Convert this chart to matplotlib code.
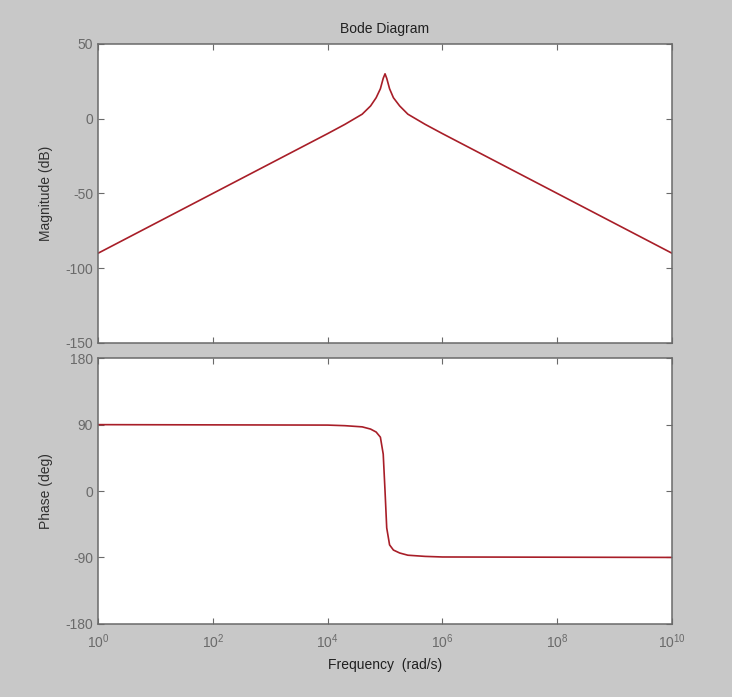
import matplotlib.pyplot as plt
from matplotlib.ticker import NullLocator

# frequency samples (rad/s) and the response read at them
freq = [1, 1e1, 1e2, 1e3, 1e4, 2e4, 4e4, 5.6e4, 7e4, 8.3e4, 9.3e4, 1e5,
        1.07e5, 1.2e5, 1.4e5, 1.8e5, 2.5e5, 5e5, 1e6, 1e7, 1e8, 1e9, 1e10]
mag_db = [-90, -70, -50, -30, -10, -3.8, 3.0, 8.5, 14, 20, 27, 30,
          27, 20, 14, 8.5, 3.0, -3.8, -10, -30, -50, -70, -90]

phase_freq = [1, 1e4, 2e4, 4e4, 5.6e4, 7e4, 8.3e4, 9.3e4, 1e5, 1.07e5,
              1.2e5, 1.4e5, 1.8e5, 2.5e5, 5e5, 1e6, 1e10]
phase_deg = [90, 89.4, 88.6, 87, 84, 80, 73, 50, 0, -50,
             -73, -80, -84, -87, -88.6, -89.4, -90]

freq_ticks = [1, 1e2, 1e4, 1e6, 1e8, 1e10]
mag_ticks = [-150, -100, -50, 0, 50]
phase_ticks = [-180, -90, 0, 90, 180]

plt.rcParams['font.family'] = ['Liberation Sans', 'DejaVu Sans']
plt.rcParams['mathtext.fontset'] = 'custom'
plt.rcParams['mathtext.rm'] = 'Liberation Sans'
plt.rcParams['axes.unicode_minus'] = False

bg = '#c8c8c8'
edge = '#6a6a6a'
tick_col = '#6a6a6a'
line_col = '#a81e28'

fig = plt.figure(figsize=(7.32, 6.97), dpi=100, facecolor=bg)
ax1 = fig.add_axes([0.134, 0.508, 0.784, 0.429])
ax2 = fig.add_axes([0.134, 0.105, 0.784, 0.381])

for ax in (ax1, ax2):
    ax.set_xscale('log')
    ax.set_xticks(freq_ticks)
    ax.xaxis.set_minor_locator(NullLocator())
    ax.set_xlim(1, 1e10)
    ax.tick_params(direction='in', length=4, width=0.8, colors=edge,
                   labelcolor=tick_col, labelsize=10,
                   top=True, right=True)
    for s in ax.spines.values():
        s.set_color(edge)
        s.set_linewidth(1.1)

ax1.plot(freq, mag_db, color=line_col, lw=1.2)
ax1.set_ylim(-150, 50)
ax1.set_yticks(mag_ticks)
ax1.tick_params(labelbottom=False)
ax1.set_ylabel('Magnitude (dB)', fontsize=10, color='#303030')
ax1.set_title('Bode Diagram', fontsize=10, color='#202020', pad=8)

ax2.plot(phase_freq, phase_deg, color=line_col, lw=1.2)
ax2.set_ylim(-180, 180)
ax2.set_yticks(phase_ticks)
ax2.tick_params(axis='x', pad=6)
ax2.set_ylabel('Phase (deg)', fontsize=10, color='#303030')
ax2.set_xlabel('Frequency  (rad/s)', fontsize=10, color='#202020', labelpad=5)

# both y labels sit in the same column left of the tick labels
for ax in (ax1, ax2):
    ax.yaxis.set_label_coords(-0.079, 0.5)

fig.savefig('out.png', dpi=100, facecolor=bg)
